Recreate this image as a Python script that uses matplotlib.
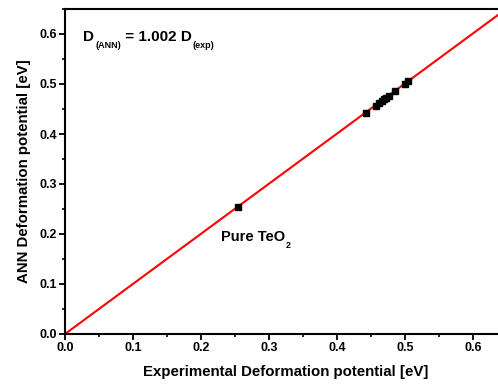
import matplotlib
matplotlib.use("Agg")
import matplotlib.pyplot as plt
from matplotlib.ticker import MultipleLocator

plt.rcParams['font.family'] = ['Liberation Sans', 'DejaVu Sans']
plt.rcParams['font.weight'] = 'bold'

# experimental vs ANN deformation potential [eV]
exp_vals = [0.255, 0.443, 0.457, 0.462, 0.466, 0.469, 0.472, 0.476, 0.485, 0.500, 0.505]
ann_vals = [0.255, 0.443, 0.457, 0.463, 0.467, 0.470, 0.473, 0.477, 0.486, 0.501, 0.506]
slope = 1.002
fit_x = [0.0, 0.65]
fit_y = [slope * v for v in fit_x]

fig = plt.figure(figsize=(4.98, 3.85), dpi=100)
ax = fig.add_axes([65 / 498, 51 / 385, 442 / 498, 325 / 385])

ax.plot(fit_x, fit_y, color='red', lw=1.5, zorder=2)
ax.plot(exp_vals, ann_vals, 's', color='black', ms=5, zorder=3)

ax.set_xlim(0, 0.65)
ax.set_ylim(0, 0.65)
ax.xaxis.set_major_locator(MultipleLocator(0.1))
ax.xaxis.set_minor_locator(MultipleLocator(0.05))
ax.yaxis.set_major_locator(MultipleLocator(0.1))
ax.yaxis.set_minor_locator(MultipleLocator(0.05))
ax.tick_params(which='major', direction='out', length=4, width=1.3, labelsize=9, pad=2)
ax.tick_params(which='minor', direction='out', length=2.5, width=1.2)
for lab in ax.get_xticklabels() + ax.get_yticklabels():
    lab.set_fontweight('bold')
for s in ax.spines.values():
    s.set_linewidth(1.5)

ax.set_xlabel('Experimental Deformation potential [eV]', fontsize=10.8, fontweight='bold', labelpad=8)
ax.set_ylabel('ANN Deformation potential [eV]', fontsize=10.8, fontweight='bold', labelpad=6)


def sub_label(x, y, pieces, big, small):
    # pieces: list of (text, is_subscript), chained left to right
    base = ax.text(x, y, pieces[0][0], fontsize=big, fontweight='bold', va='baseline')
    prev = base
    for txt, is_sub in pieces[1:]:
        if is_sub:
            t = ax.annotate(txt, xy=(1, 0), xycoords=(prev, base), xytext=(0.5, -3),
                            textcoords='offset points', fontsize=small, fontweight='bold',
                            va='baseline')
        else:
            t = ax.annotate(txt, xy=(1, 0), xycoords=(prev, base), xytext=(0, 0),
                            textcoords='offset points', fontsize=big, fontweight='bold',
                            va='bottom')
        prev = t


sub_label(0.027, 0.587, [('D', False), ('(ANN)', True), (' = 1.002 D', False), ('(exp)', True)], 11, 6.5)
sub_label(0.229, 0.186, [('Pure TeO', False), ('2', True)], 10.5, 6.5)

fig.savefig('out.png', dpi=100)
